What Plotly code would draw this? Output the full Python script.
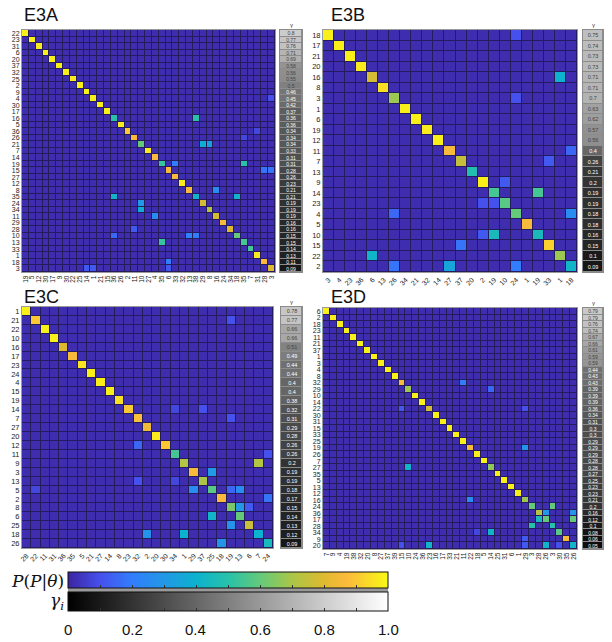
import plotly.graph_objects as go

W, H = 612, 642

# ---------------- data ----------------
A_rows = [22,23,31,6,20,37,32,25,2,9,4,30,17,16,5,36,26,21,7,14,19,15,27,12,8,35,24,34,11,29,28,10,13,33,1,18,3]
A_cols = [19,5,12,30,17,9,30,22,25,14,1,21,15,36,26,2,11,10,27,4,35,6,33,32,13,38,29,8,16,24,34,18,35,7,31,28,3]
A_gamma = [0.8,0.77,0.76,0.71,0.69,0.58,0.56,0.55,0.5,0.46,0.45,0.42,0.37,0.36,0.36,0.34,0.34,0.34,0.33,0.31,
           0.31,0.28,0.26,0.23,0.21,0.21,0.19,0.19,0.19,0.16,0.16,0.15,0.15,0.14,0.13,0.11,0.09]
A_diag = [0.98,0.98,0.97,0.98,0.98,0.98,0.98,0.97,0.98,0.98,0.98,0.98,0.98,0.5,0.97,0.9,0.87,0.6,0.97,0.87,
          0.52,0.86,0.86,0.97,0.86,0.42,0.78,0.72,0.78,0.86,0.8,0.6,0.55,0.55,0.97,0.87,0.8]
A_off = [(13,25,0.5),(17,26,0.38),(17,27,0.33),(20,22,0.2),(20,32,0.5),(21,35,0.18),(21,36,0.18),
         (24,28,0.25),(25,13,0.42),(25,31,0.42),(26,17,0.3),(27,17,0.38),(28,19,0.25),(30,16,0.12),
         (31,13,0.15),(31,24,0.22),(31,25,0.2),(32,20,0.52),(35,21,0.2),(36,9,0.12),(36,10,0.12),
         (36,21,0.12),(10,36,0.1),(15,34,0.08),(16,32,0.08)]

B_rows = [18,17,21,20,16,8,3,1,6,19,12,11,7,13,9,14,23,4,5,10,15,22,2]
B_cols = [3,4,23,36,6,13,26,34,21,32,14,27,37,20,2,19,10,24,1,19,33,1,18]
B_gamma = [0.75,0.74,0.73,0.73,0.71,0.71,0.7,0.63,0.62,0.57,0.56,0.4,0.26,0.21,0.2,0.19,0.19,0.18,0.18,
           0.16,0.15,0.1,0.09]
B_diag = [0.98,0.98,0.98,0.97,0.78,0.95,0.68,0.98,0.98,0.97,0.98,0.86,0.75,0.48,0.98,0.55,0.58,0.6,0.86,
          0.45,0.92,0.68,0.42]
B_off = [(0,17,0.1),(4,21,0.4),(6,17,0.1),(11,22,0.15),(12,20,0.12),(14,16,0.12),(15,19,0.55),
         (16,14,0.1),(16,15,0.1),(17,6,0.15),(17,22,0.25),(19,14,0.12),(19,15,0.45),(20,12,0.18),
         (21,4,0.42),(22,6,0.18),(22,11,0.35),(22,17,0.2)]

C_rows = [1,21,22,10,16,17,23,24,4,15,19,14,7,27,20,12,11,9,3,13,5,2,8,6,25,18,26]
C_cols = [28,22,11,31,36,35,5,21,27,14,8,23,32,2,20,30,34,1,29,37,25,18,19,13,6,7,24]
C_gamma = [0.78,0.77,0.66,0.66,0.51,0.49,0.44,0.44,0.4,0.4,0.38,0.32,0.31,0.29,0.28,0.26,0.26,0.2,0.19,
           0.19,0.18,0.17,0.15,0.14,0.13,0.12,0.09]
C_diag = [0.98,0.9,0.98,0.98,0.8,0.86,0.96,0.98,0.98,0.98,0.95,0.9,0.88,0.84,0.97,0.9,0.55,0.72,0.86,
          0.7,0.58,0.87,0.63,0.6,0.76,0.4,0.45]
C_off = [(1,22,0.1),(11,16,0.08),(11,19,0.1),(12,22,0.1),(15,12,0.15),(16,26,0.1),(17,25,0.72),
         (18,20,0.3),(19,12,0.1),(19,16,0.08),(20,1,0.08),(20,18,0.25),(20,22,0.15),(20,23,0.25),
         (21,26,0.18),(22,23,0.3),(22,24,0.12),(23,20,0.42),(24,22,0.28),(25,13,0.28),(25,17,0.4),
         (26,21,0.28)]

D_rows = [6,2,18,23,11,21,37,1,3,4,8,32,29,10,14,22,30,31,15,33,25,19,26,7,27,35,5,13,12,16,24,36,17,28,34,9,20]
D_cols = [7,9,4,19,38,32,20,8,27,37,39,15,10,24,36,23,16,17,33,21,11,22,18,5,14,25,31,6,1,29,3,28,26,3,30,35,26]
D_gamma = [0.79,0.79,0.76,0.74,0.67,0.66,0.61,0.59,0.59,0.44,0.43,0.43,0.39,0.39,0.39,0.36,0.34,0.31,0.3,
           0.3,0.29,0.29,0.29,0.28,0.28,0.27,0.25,0.23,0.23,0.21,0.2,0.16,0.12,0.1,0.08,0.06,0.05]
D_diag = [0.98,0.98,0.98,0.98,0.98,0.98,0.98,0.98,0.98,0.98,0.98,0.87,0.68,0.98,0.98,0.78,0.98,0.98,0.98,
          0.98,0.98,0.86,0.98,0.98,0.66,0.98,0.98,0.98,0.98,0.68,0.6,0.72,0.6,0.5,0.58,0.86,0.42]
D_off = [(11,20,0.2),(12,24,0.15),(15,11,0.12),(15,29,0.1),(21,29,0.28),(24,12,0.42),(29,21,0.25),
         (30,33,0.6),(31,32,0.3),(31,36,0.28),(32,31,0.45),(32,36,0.6),(33,30,0.5),(34,24,0.42),
         (34,22,0.08),(35,29,0.12),(36,15,0.42),(36,32,0.42),(36,11,0.1),(36,29,0.12),(36,34,0.1)]

base_p = 0.02
cbar_ticks = [0, 0.1, 0.2, 0.3, 0.4, 0.5, 0.6, 0.7, 0.8, 0.9, 1.0]
cbar_labels = [0, 0.2, 0.4, 0.6, 0.8, 1.0]

parula = [
    [0.00, "rgb(60,36,160)"], [0.10, "rgb(70,80,236)"], [0.20, "rgb(50,125,252)"],
    [0.30, "rgb(34,152,230)"], [0.40, "rgb(12,178,206)"], [0.50, "rgb(40,194,170)"],
    [0.60, "rgb(100,202,122)"], [0.70, "rgb(170,198,72)"], [0.80, "rgb(222,186,48)"],
    [0.87, "rgb(252,186,60)"], [0.93, "rgb(250,214,42)"], [1.00, "rgb(249,250,20)"],
]

# --------------- geometry (pixels) ---------------
panels = [
    dict(name="E3A", rows=A_rows, cols=A_cols, gamma=A_gamma, diag=A_diag, off=A_off,
         hx=(22, 275), hy=(30, 272), gx=(280, 302), ang=-90, fs=6.5, gfs=5, title=(22, 15)),
    dict(name="E3B", rows=B_rows, cols=B_cols, gamma=B_gamma, diag=B_diag, off=B_off,
         hx=(323, 577), hy=(30, 272), gx=(583, 603), ang=-45, fs=7, gfs=5.5, title=(329, 15)),
    dict(name="E3C", rows=C_rows, cols=C_cols, gamma=C_gamma, diag=C_diag, off=C_off,
         hx=(22, 273), hy=(307, 548), gx=(281, 302), ang=-45, fs=7, gfs=5.5, title=(22, 297)),
    dict(name="E3D", rows=D_rows, cols=D_cols, gamma=D_gamma, diag=D_diag, off=D_off,
         hx=(323, 577), hy=(308, 549), gx=(583, 603), ang=-90, fs=6.5, gfs=5, title=(329, 297)),
]
CB_X0, CB_X1 = 68, 388

def px(x):
    return x / W

def py(y):
    return 1 - y / H

def ax_names(k):
    s = "" if k == 1 else str(k)
    return "x" + s, "y" + s, "xaxis" + s, "yaxis" + s

fig = go.Figure()
layout = {}
shapes = []
annotations = []
FONT = "Liberation Sans, Arial, sans-serif"

for i, p in enumerate(panels):
    n = len(p["rows"])
    m = len(p["cols"])
    z = [[base_p] * m for _ in range(n)]
    for k, v in enumerate(p["diag"]):
        z[k][k] = v
    for r, c, v in p["off"]:
        z[r][c] = v
    hxn, hyn, hxk, hyk = ax_names(2 * i + 1)
    gxn, gyn, gxk, gyk = ax_names(2 * i + 2)
    fig.add_trace(go.Heatmap(z=z, x=list(range(m)), y=list(range(n)), coloraxis="coloraxis",
                             xgap=1, ygap=1, xaxis=hxn, yaxis=hyn,
                             customdata=[[f"{p['rows'][r]}→{p['cols'][c]}" for c in range(m)] for r in range(n)],
                             hovertemplate="%{customdata}: %{z:.2f}<extra></extra>"))
    fig.add_trace(go.Heatmap(z=[[g] for g in p["gamma"]], x=[0], y=list(range(n)),
                             coloraxis="coloraxis2", xgap=1, ygap=1, xaxis=gxn, yaxis=gyn,
                             text=[[f"{g:g}"] for g in p["gamma"]], texttemplate="%{text}",
                             textfont=dict(size=p["gfs"], family=FONT),
                             hovertemplate="γ = %{z}<extra></extra>"))
    y0, y1 = p["hy"]
    layout[hxk] = dict(domain=[px(p["hx"][0]), px(p["hx"][1])], anchor=hyn,
                       tickvals=list(range(m)), ticktext=[str(c) for c in p["cols"]],
                       tickangle=p["ang"], tickfont=dict(size=p["fs"], family=FONT, color="#222"),
                       showline=True, mirror=True, linecolor="#9a9a9a", linewidth=1,
                       ticks="", range=[-0.5, m - 0.5], showgrid=False, zeroline=False)
    layout[hyk] = dict(domain=[py(y1), py(y0)], anchor=hxn,
                       tickvals=list(range(n)), ticktext=[str(r) for r in p["rows"]],
                       tickfont=dict(size=p["fs"] + 0.5, family=FONT, color="#222"),
                       showline=True, mirror=True, linecolor="#9a9a9a", linewidth=1,
                       ticks="", range=[n - 0.5, -0.5], showgrid=False, zeroline=False)
    layout[gxk] = dict(domain=[px(p["gx"][0]), px(p["gx"][1])], anchor=gyn,
                       showticklabels=False, ticks="", showgrid=False, zeroline=False,
                       showline=True, mirror=True, linecolor="#8a8a8a", range=[-0.5, 0.5])
    layout[gyk] = dict(domain=[py(y1), py(y0)], anchor=gxn,
                       showticklabels=False, ticks="", showgrid=False, zeroline=False,
                       showline=True, mirror=True, linecolor="#8a8a8a", range=[n - 0.5, -0.5])
    shapes.append(dict(type="rect", xref=f"{hxn} domain", yref=f"{hyn} domain", x0=0, x1=1, y0=0, y1=1,
                       fillcolor="#241c5c", line=dict(width=0), layer="below"))
    shapes.append(dict(type="rect", xref=f"{gxn} domain", yref=f"{gyn} domain", x0=0, x1=1, y0=0, y1=1,
                       fillcolor="#8c8c8c", line=dict(width=0), layer="below"))
    annotations.append(dict(text=p["name"], x=px(p["title"][0]), y=py(p["title"][1]), xref="paper", yref="paper",
                            xanchor="left", yanchor="middle", showarrow=False,
                            font=dict(size=18, family=FONT, color="#111")))
    annotations.append(dict(text="γ", x=px((p["gx"][0] + p["gx"][1]) / 2), y=py(y0 - 5), xref="paper",
                            yref="paper", xanchor="center", yanchor="middle", showarrow=False,
                            font=dict(size=6, family=FONT, color="#444")))

# colorbar labels
annotations.append(dict(text="<i>P</i>(<i>P</i>|<i>θ</i>)", x=px(CB_X0 - 2), y=py(581), xref="paper", yref="paper",
                        xanchor="right", yanchor="middle", showarrow=False,
                        font=dict(size=17, family="DejaVu Serif, serif", color="#111")))
annotations.append(dict(text="<i>γ<sub>i</sub></i>", x=px(CB_X0 - 2), y=py(601), xref="paper", yref="paper",
                        xanchor="right", yanchor="middle", showarrow=False,
                        font=dict(size=17, family="DejaVu Serif, serif", color="#111")))
for v in cbar_labels:
    annotations.append(dict(text="0" if v == 0 else f"{v:.1f}", x=px(CB_X0 + v * (CB_X1 - CB_X0)), y=py(629),
                            xref="paper", yref="paper", xanchor="center", yanchor="middle", showarrow=False,
                            font=dict(size=15, family=FONT, color="#111")))
shapes.append(dict(type="rect", xref="paper", yref="paper", x0=px(CB_X0), x1=px(CB_X1), y0=py(592), y1=py(588),
                   fillcolor="#9a9a9a", line=dict(width=0)))

cb_common = dict(orientation="h", x=px(CB_X0), xanchor="left", len=(CB_X1 - CB_X0) / W,
                 lenmode="fraction", yanchor="top", xpad=0, ypad=0, outlinewidth=1, outlinecolor="#111",
                 tickvals=cbar_ticks, ticks="inside", ticklen=3, tickcolor="#333", showticklabels=False)
layout["coloraxis"] = dict(colorscale=parula, cmin=0, cmax=1,
                           colorbar=dict(y=py(572), thickness=16, **cb_common))
layout["coloraxis2"] = dict(colorscale=[[0, "black"], [1, "white"]], cmin=0, cmax=1,
                            colorbar=dict(y=py(592), thickness=19, **cb_common))

fig.update_layout(width=W, height=H, margin=dict(l=0, r=0, t=0, b=0, autoexpand=False),
                  paper_bgcolor="white", plot_bgcolor="white", showlegend=False,
                  shapes=shapes, annotations=annotations, **layout)

fig.write_html("out.html", config={"displayModeBar": False},
               post_script="document.body.style.margin='0';document.body.style.overflow='hidden';")
